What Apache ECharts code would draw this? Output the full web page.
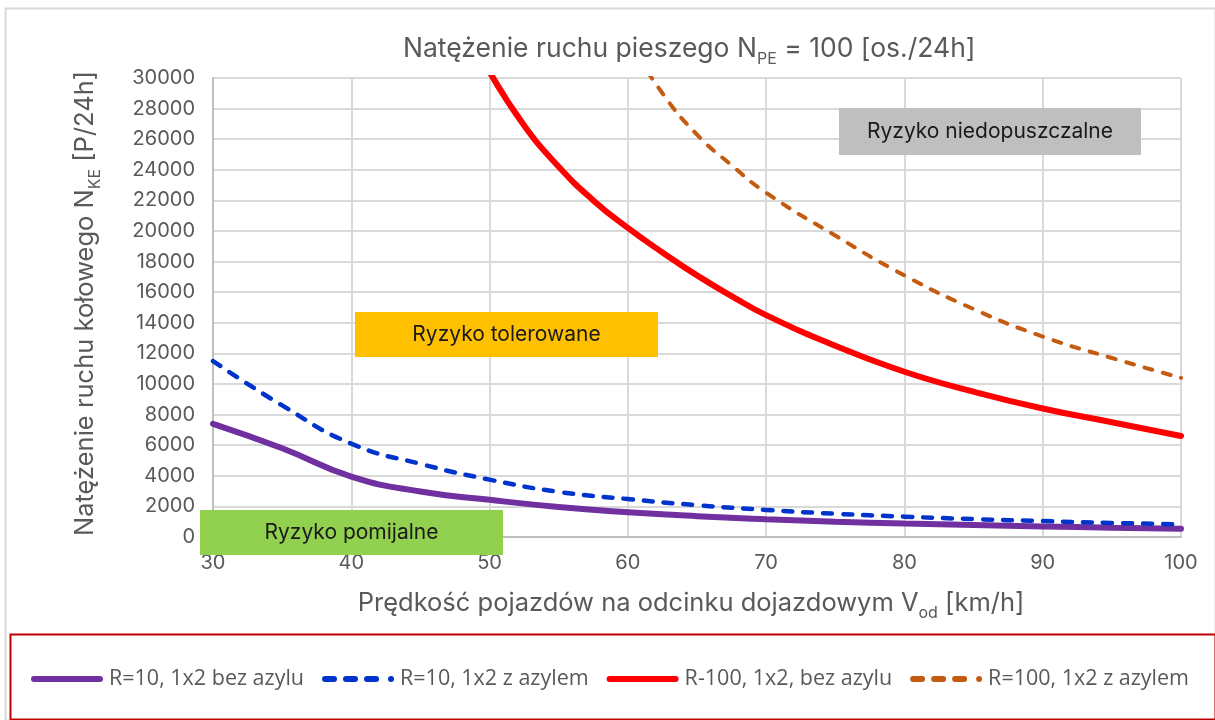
<!DOCTYPE html>
<html>
<head>
<meta charset="utf-8">
<script src="https://cdn.jsdelivr.net/npm/echarts@6/dist/echarts.min.js"></script>
<style>
  html, body { margin: 0; background: #fff; }
  #chart { width: 1215px; height: 720px; }
</style>
</head>
<body>
<div id="chart"></div>
<script>
// dane
var speeds = [30, 35, 40, 45, 50, 55, 60, 65, 70, 75, 80, 85, 90, 95, 100];
var r10Bez = [7400, 5800, 3950, 2970, 2430, 1960, 1620, 1360, 1160, 1000, 880, 780, 690, 610, 540];
var r10Z = [11500, 8600, 6100, 4780, 3750, 2950, 2480, 2080, 1770, 1520, 1330, 1170, 1040, 920, 830];
var speeds100Bez = [50, 52.5, 55, 57.5, 60, 62.5, 65, 67.5, 70, 75, 80, 85, 90, 95, 100];
var r100Bez = [30400, 26900, 24200, 22000, 20200, 18600, 17100, 15750, 14500, 12500, 10800, 9500, 8400, 7500, 6600];
var speeds100Z = [60, 62.5, 65, 67.5, 70, 75, 80, 85, 90, 95, 100];
var r100Z = [32500, 29000, 26300, 24300, 22500, 19700, 17100, 14900, 13100, 11700, 10400];

var names = ['R=10, 1x2 bez azylu', 'R=10, 1x2 z azylem', 'R-100, 1x2, bez azylu', 'R=100, 1x2 z azylem'];

function pairs(xs, ys) {
  return xs.map(function (x, i) { return [x, ys[i]]; });
}

var font = 'Inter';
var grey = '#595959';

// ikony legendy: pełna linia i linia kreskowana
var solidIcon = 'path://M3,0H69A3,3 0 0 1 69,6H3A3,3 0 0 1 3,0Z';
var dashIcon = 'path://M3,0H12A3,3 0 0 1 12,6H3A3,3 0 0 1 3,0Z' +
  'M24,0H33A3,3 0 0 1 33,6H24A3,3 0 0 1 24,0Z' +
  'M45,0H54A3,3 0 0 1 54,6H45A3,3 0 0 1 45,0Z' +
  'M69,0A3,3 0 0 1 69,6A3,3 0 0 1 69,0Z';

function subRich(size) {
  return {
    a: { fontFamily: font, fontSize: size, fontWeight: 'normal', color: grey, lineHeight: 36, verticalAlign: 'middle' },
    s: { fontFamily: font, fontSize: Math.round(size * 0.62), fontWeight: 'normal', color: grey, lineHeight: 16, verticalAlign: 'bottom' }
  };
}

function box(x, y, w, h, color, label) {
  return {
    type: 'group', left: x, top: y,
    children: [
      { type: 'rect', z: 100, shape: { x: 0, y: 0, width: w, height: h }, style: { fill: color } },
      {
        type: 'text', z: 101, x: w / 2, y: h / 2,
        style: { text: label, fontFamily: font, fontSize: 21, fill: '#1a1a1a', align: 'center', verticalAlign: 'middle' }
      }
    ]
  };
}

var myChart = echarts.init(document.getElementById('chart'));
var option = {
  backgroundColor: '#fff',
  animation: false,
  title: {
    text: '{a|Natężenie ruchu pieszego N}{s|PE}{a| = 100 [os./24h]}',
    left: 398, top: 26,
    textStyle: { rich: subRich(26.5) }
  },
  grid: { left: 213, right: 34, top: 78, bottom: 183 },
  legend: {
    left: 26, top: 663,
    itemWidth: 74, itemHeight: 6, itemGap: 18,
    textStyle: { fontFamily: 'Open Sans', fontSize: 21.5, color: grey },
    data: [
      { name: names[0], icon: solidIcon },
      { name: names[1], icon: dashIcon },
      { name: names[2], icon: solidIcon },
      { name: names[3], icon: dashIcon }
    ]
  },
  xAxis: {
    type: 'value',
    min: 30, max: 100, interval: 10,
    name: '{a|Prędkość pojazdów na odcinku dojazdowym V}{s|od}{a| [km/h]}',
    nameLocation: 'middle', nameGap: 48,
    nameTextStyle: { rich: subRich(25.5), padding: [0, 12, 0, 0] },
    axisLine: { lineStyle: { color: '#bfbfbf', width: 2 } },
    axisTick: { show: false },
    axisLabel: { fontFamily: font, fontSize: 20, color: grey, margin: 16 },
    splitLine: { lineStyle: { color: '#d9d9d9', width: 2 } }
  },
  yAxis: {
    type: 'value',
    min: 0, max: 30000, interval: 2000,
    name: '{a|Natężenie ruchu kołowego N}{s|KE}{a| [P/24h]}',
    nameLocation: 'middle', nameGap: 110, nameRotate: 90,
    nameTextStyle: { rich: subRich(25.5), padding: [0, 0, 0, 8] },
    axisLine: { show: true, lineStyle: { color: '#bfbfbf', width: 2 } },
    axisTick: { show: false },
    axisLabel: {
      fontFamily: font, fontSize: 20, color: grey, margin: 18,
      formatter: function (v) { return String(v); }
    },
    splitLine: { lineStyle: { color: '#d9d9d9', width: 2 } }
  },
  series: [
    {
      name: names[0], type: 'line', smooth: true, symbol: 'none',
      data: pairs(speeds, r10Bez),
      color: '#7030a0',
      lineStyle: { color: '#7030a0', width: 6, cap: 'round' }
    },
    {
      name: names[1], type: 'line', smooth: true, symbol: 'none',
      data: pairs(speeds, r10Z),
      color: '#0033cc',
      lineStyle: { color: '#0033cc', width: 4.5, type: [9, 11], cap: 'round' }
    },
    {
      name: names[2], type: 'line', smooth: true, symbol: 'none',
      data: pairs(speeds100Bez, r100Bez),
      color: '#ff0000',
      lineStyle: { color: '#ff0000', width: 6, cap: 'round' }
    },
    {
      name: names[3], type: 'line', smooth: true, symbol: 'none',
      data: pairs(speeds100Z, r100Z),
      color: '#c55a11',
      lineStyle: { color: '#c55a11', width: 4, type: [8, 11], cap: 'round' }
    }
  ],
  graphic: [
    {
      type: 'rect', left: 3, top: 6, z: -1, silent: true,
      shape: { width: 1210, height: 712 },
      style: { fill: 'none', stroke: '#d9d9d9', lineWidth: 2 }
    },
    {
      type: 'rect', left: 8, top: 632, z: -1, silent: true,
      shape: { width: 1205, height: 85 },
      style: { fill: 'none', stroke: '#c00000', lineWidth: 2 }
    },
    box(839, 108, 302, 47, '#bfbfbf', 'Ryzyko niedopuszczalne'),
    box(355, 312, 303, 45, '#ffc000', 'Ryzyko tolerowane'),
    box(200, 510, 303, 45, '#92d050', 'Ryzyko pomijalne')
  ]
};
myChart.setOption(option);
</script>
</body>
</html>
